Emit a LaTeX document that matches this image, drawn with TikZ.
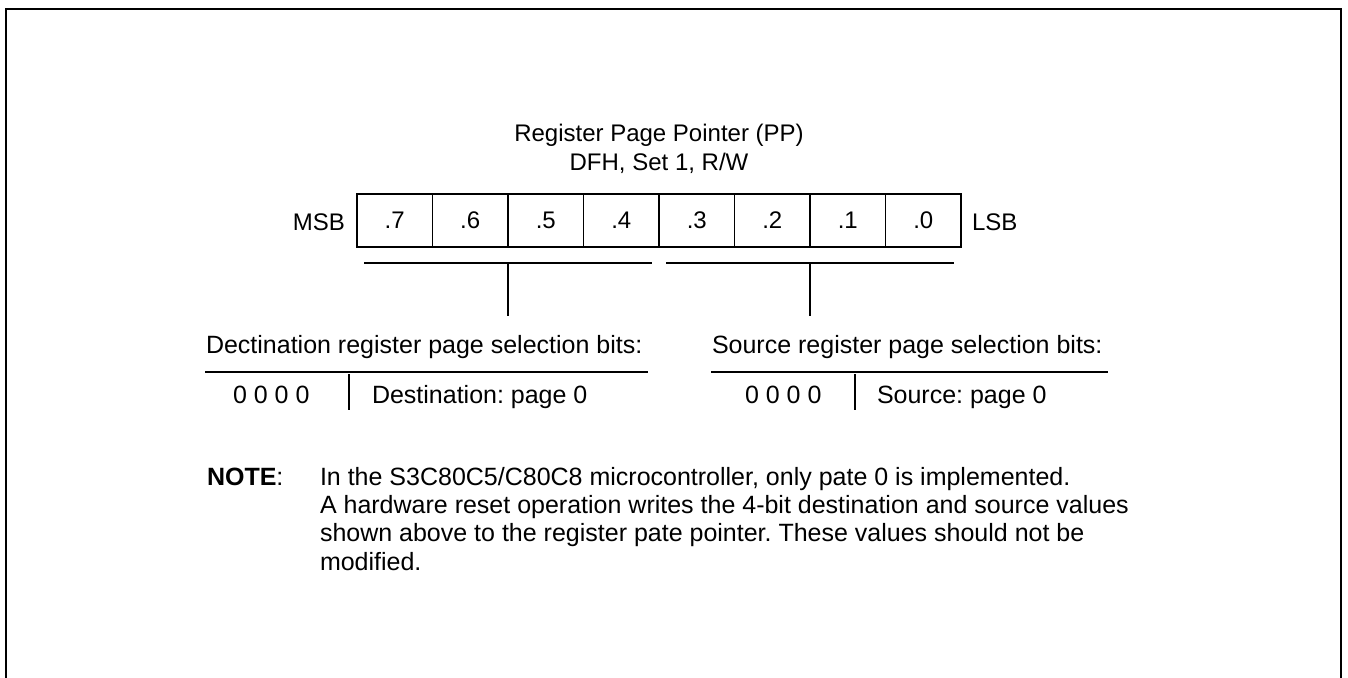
\documentclass[tikz,border=0pt]{standalone}
\usepackage{fontspec}
\setmainfont{Liberation Sans}
\frenchspacing
\begin{document}
\begin{tikzpicture}[x=1pt,y=-1pt,
  every node/.style={inner sep=0pt,outer sep=0pt},
  body/.style={font=\fontsize{25}{28}\selectfont},
  regfont/.style={font=\fontsize{24}{28}\selectfont},
  cell/.style={draw,line width=1.5pt,minimum width=75.5pt,minimum height=53pt,regfont},
  thin/.style={line width=1.3pt},
  frame/.style={line width=2.2pt}]
\useasboundingbox (0,0) rectangle (1348,677);

% open frame around the figure
\coordinate (fbl) at (6,678);
\coordinate (ftl) at (6,9);
\coordinate (ftr) at (1341,9);
\coordinate (fbr) at (1341,678);
\draw[frame] (fbl) -- (ftl) -- (ftr) -- (fbr);

% title
\node[regfont,anchor=base] (title1) at (659,141) {Register Page Pointer (PP)};
\node[regfont,anchor=base] (title2) at (659,170) {DFH, Set 1, R/W};

% register bits
\foreach \b [count=\i from 0] in {7,6,5,4,3,2,1,0}
  \node[cell] (b\b) at ({357+37.75+75.5*\i},220.5) {.\b};
\node[regfont,anchor=base east] (msb) at (345,230) {MSB};
\node[regfont,anchor=base west] (lsb) at (972,230) {LSB};

% field brackets
\coordinate (dl) at (364,263);
\coordinate (dr) at (652,263);
\coordinate (dm) at (508,263);
\coordinate (dend) at (508,316);
\coordinate (sl) at (666,263);
\coordinate (sr) at (954,263);
\coordinate (sm) at (810,263);
\coordinate (send) at (810,316);
\draw[thin] (dl) -- (dr);
\draw[thin] (dm) -- (dend);
\draw[thin] (sl) -- (sr);
\draw[thin] (sm) -- (send);

% destination field table
\node[body,anchor=base west] (dhead) at (206,353) {Dectination register page selection bits:};
\coordinate (dtl) at (205,372);
\coordinate (dtr) at (648,372);
\coordinate (dst) at (349,374);
\coordinate (dsb) at (349,410);
\draw[thin] (dtl) -- (dtr);
\draw[thin] (dst) -- (dsb);
\node[body,anchor=base west] (dval) at (233,403) {0 0 0 0};
\node[body,anchor=base west] (dtxt) at (372,403) {Destination: page 0};

% source field table
\node[body,anchor=base west] (shead) at (712,353) {Source register page selection bits:};
\coordinate (stl) at (711,372);
\coordinate (str) at (1108,372);
\coordinate (sst) at (855,374);
\coordinate (ssb) at (855,410);
\draw[thin] (stl) -- (str);
\draw[thin] (sst) -- (ssb);
\node[body,anchor=base west] (sval) at (745,403) {0 0 0 0};
\node[body,anchor=base west] (stxt) at (877,403) {Source: page 0};

% note
\node[body,anchor=base west] (note) at (207,485) {\textbf{NOTE}:};
\node[body,anchor=base west] (n1) at (320,485) {In the S3C80C5/C80C8 microcontroller, only pate 0 is implemented.};
\node[body,anchor=base west] (n2) at (320,513.3) {A hardware reset operation writes the 4-bit destination and source values};
\node[body,anchor=base west] (n3) at (320,541.6) {shown above to the register pate pointer. These values should not be};
\node[body,anchor=base west] (n4) at (320,570) {modified.};
\end{tikzpicture}
\end{document}
